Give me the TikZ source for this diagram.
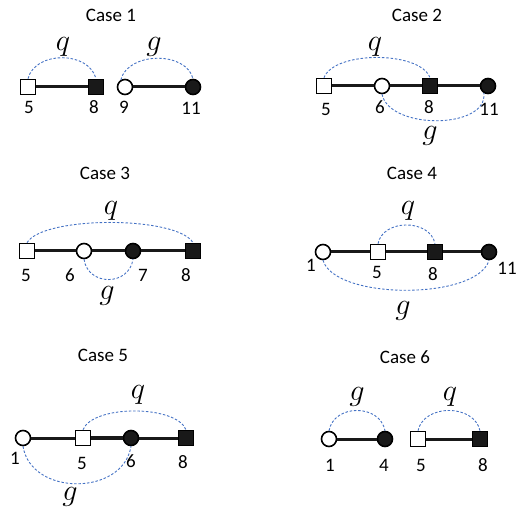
\documentclass[tikz,border=0pt]{standalone}
\usepackage{fontspec}
\setmainfont{Carlito}
\usepackage{tikz}
\definecolor{arcblue}{RGB}{68,114,196}

\begin{document}
\begin{tikzpicture}[x=1pt,y=-1pt,
  every node/.style={font=\fontsize{19}{22}\selectfont,inner sep=0pt},
  var/.style={scale=1.75},
  osq/.style={draw,rectangle,line width=1.6pt,fill=white,minimum size=15pt},
  fsq/.style={osq,fill=black!90},
  ocir/.style={draw,circle,line width=1.6pt,fill=white,minimum size=15pt},
  fcir/.style={ocir,fill=black!90},
  bond/.style={line width=3pt,black!90},
  link/.style={arcblue,dash pattern=on 2.5pt off 1.8pt,line width=0.9pt}]
\useasboundingbox (0,0) rectangle (519,510);

% case 1
\node (t1) at (111,15) {Case 1};
\node[osq] (a5) at (28,87) {};
\node[fsq] (a8) at (96,87) {};
\node[ocir] (a9) at (125,87) {};
\node[fcir] (a11) at (193,87) {};
\draw[bond] (a5) -- (a8);
\draw[bond] (a9) -- (a11);
\node (na5) at (29,107) {5};
\node (na8) at (94,107) {8};
\node (na9) at (124,107) {9};
\node (na11) at (191,108) {11};
\draw[link] (a5.north) .. controls +(7,-28) and +(-7,-28) .. (a8.north);
\draw[link] (a9.120) .. controls +(7,-28) and +(-7,-28) .. (a11.north);
\node[var] (qa) at (63,47) {$q$};
\node[var] (ga) at (154,47) {$g$};

% case 2
\node (t2) at (417,15) {Case 2};
\node[osq] (b5) at (324,86) {};
\node[ocir] (b6) at (382,86) {};
\node[fsq] (b8) at (430,86) {};
\node[fcir] (b11) at (488,86) {};
\draw[bond] (b5) -- (b6) -- (b8) -- (b11);
\node (nb5) at (326,109) {5};
\node (nb6) at (380,107) {6};
\node (nb8) at (429,107) {8};
\node (nb11) at (489,109) {11};
\draw[link] (b5.north) .. controls +(10,-27) and +(-10,-27) .. (b8.north);
\draw[link] (b6.south) .. controls +(8,36) and +(4,36) .. (b11.-120);
\node[var] (qb) at (375,47) {$q$};
\node[var] (gb) at (430,136) {$g$};

% case 3
\node (t3) at (105,173) {Case 3};
\node[osq] (c5) at (27,251) {};
\node[ocir] (c6) at (84,251) {};
\node[fcir] (c7) at (133,251) {};
\node[fsq] (c8) at (193,251) {};
\draw[bond] (c5) -- (c6) -- (c7) -- (c8);
\node (nc5) at (26,275) {5};
\node (nc6) at (70,275) {6};
\node (nc7) at (143,275) {7};
\node (nc8) at (186,275) {8};
\draw[link] (c5.north) .. controls +(16,-27) and +(-16,-27) .. (c8.north);
\draw[link] (c6.south) .. controls +(4,27) and +(-4,27) .. (c7.south);
\node[var] (qc) at (111,211) {$q$};
\node[var] (gc) at (107,296) {$g$};

% case 4
\node (t4) at (412,173) {Case 4};
\node[ocir] (d1) at (323,252) {};
\node[osq] (d5) at (378,252) {};
\node[fsq] (d8) at (435,252) {};
\node[fcir] (d11) at (489,252) {};
\draw[bond] (d1) -- (d5) -- (d8) -- (d11);
\node (nd1) at (311,265) {1};
\node (nd5) at (377,272) {5};
\node (nd8) at (433,274) {8};
\node (nd11) at (507,268) {11};
\draw[link] (d5.north) .. controls +(5,-25) and +(-5,-25) .. (d8.north);
\draw[link] (d1.south) .. controls +(12,40) and +(-12,40) .. (d11.south);
\node[var] (qd) at (408,211) {$q$};
\node[var] (gd) at (403,311) {$g$};

% case 5
\node (t5) at (103,355) {Case 5};
\node[ocir] (e1) at (23,438) {};
\node[osq] (e5) at (83,438) {};
\node[fcir] (e6) at (131,438) {};
\node[fsq] (e8) at (186,438) {};
\draw[bond] (e1) -- (e5);
\draw[bond,line width=3.6pt] (e5) -- (e6);
\draw[bond] (e6) -- (e8);
\node (ne1) at (15,458) {1};
\node (ne5) at (82,463) {5};
\node (ne6) at (131,461) {6};
\node (ne8) at (183,462) {8};
\draw[link] (e5.north) .. controls +(10,-25) and +(-10,-25) .. (e8.north);
\draw[link] (e1.south) .. controls +(8,50) and +(-8,50) .. (e6.south);
\node[var] (qe) at (138,395) {$q$};
\node[var] (ge) at (70,497) {$g$};

% case 6
\node (t6) at (405,357) {Case 6};
\node[ocir] (f1) at (329,439) {};
\node[fcir] (f4) at (385,439) {};
\node[osq] (f5) at (418,439) {};
\node[fsq] (f8) at (480,439) {};
\draw[bond] (f1) -- (f4);
\draw[bond] (f5) -- (f8);
\node (nf1) at (330,465) {1};
\node (nf4) at (384,465) {4};
\node (nf5) at (421,465) {5};
\node (nf8) at (483,465) {8};
\draw[link] (f1.north) .. controls +(5,-27) and +(-5,-27) .. (f4.north);
\draw[link] (f5.north) .. controls +(6,-27) and +(-6,-27) .. (f8.north);
\node[var] (gf) at (357,397) {$g$};
\node[var] (qf) at (450,397) {$q$};
\end{tikzpicture}
\end{document}
